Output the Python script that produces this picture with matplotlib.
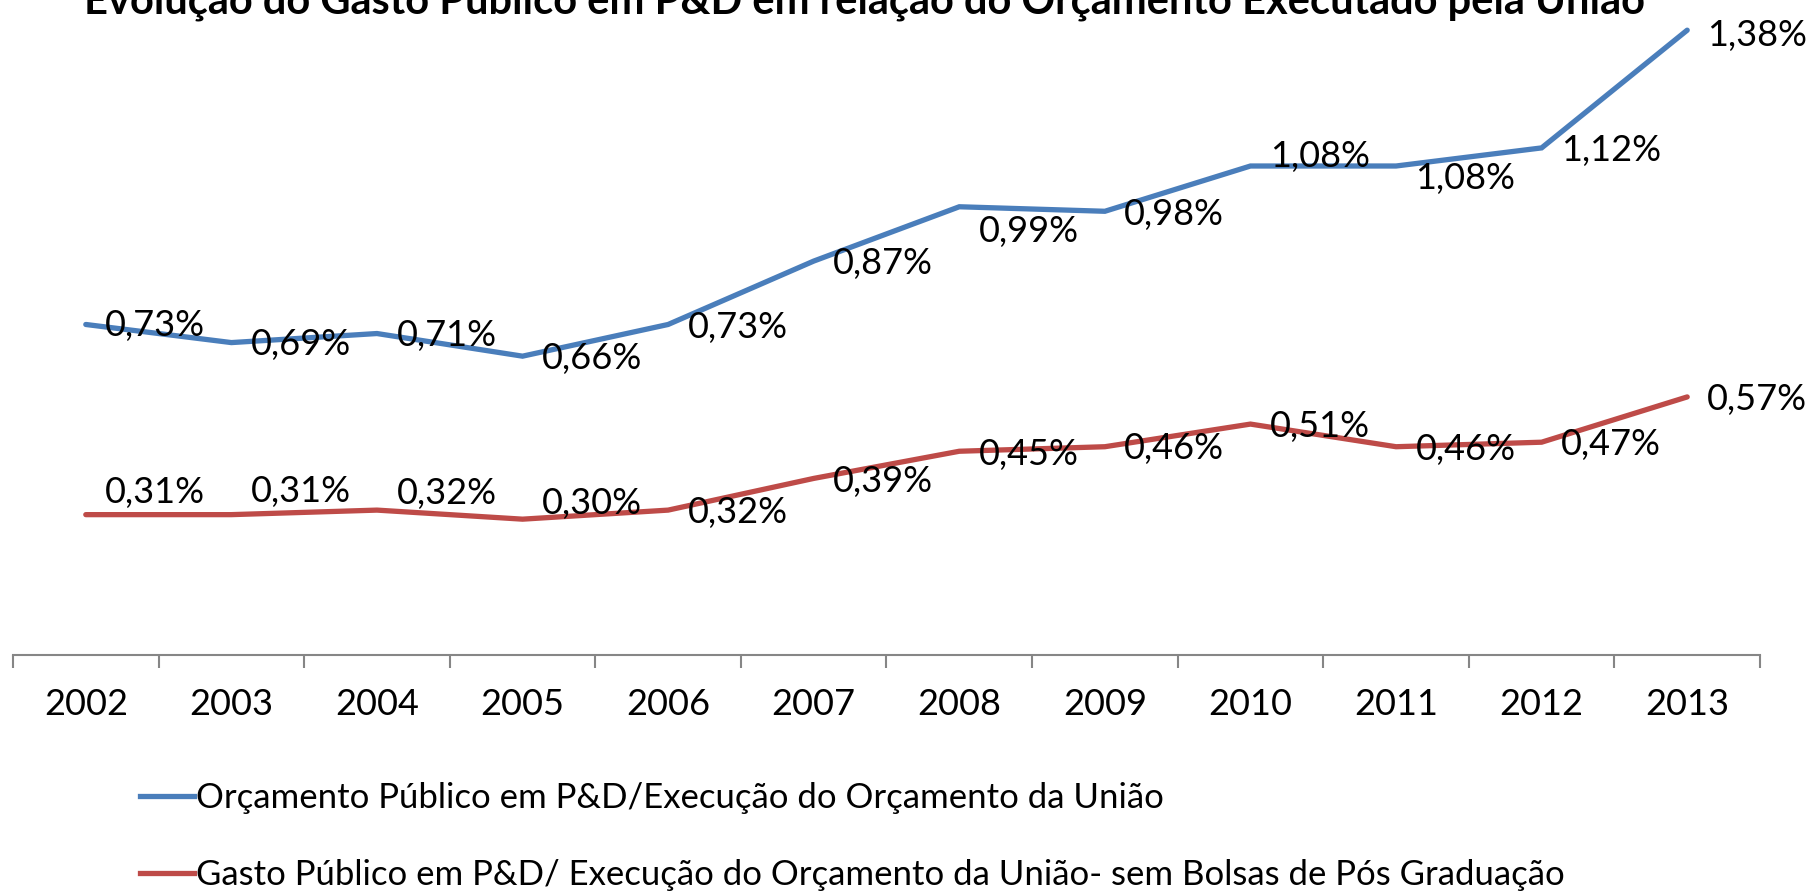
import matplotlib
matplotlib.use("Agg")
import matplotlib.pyplot as plt
from matplotlib.lines import Line2D

plt.rcParams['font.family'] = ['Lato', 'DejaVu Sans']

years = ['2002', '2003', '2004', '2005', '2006', '2007',
         '2008', '2009', '2010', '2011', '2012', '2013']
orcamento = [0.73, 0.69, 0.71, 0.66, 0.73, 0.87, 0.99, 0.98, 1.08, 1.08, 1.12, 1.38]
gasto_sem_bolsas = [0.31, 0.31, 0.32, 0.30, 0.32, 0.39, 0.45, 0.46, 0.51, 0.46, 0.47, 0.57]

title = 'Evolução do Gasto Público em P&D em relação do Orçamento Executado pela União'
legend_labels = ['Orçamento Público em P&D/Execução do Orçamento da União',
                 'Gasto Público em P&D/ Execução do Orçamento da União- sem Bolsas de Pós Graduação']

# label vertical offsets (points, positive = up) as positioned in the original
blue_dy = [-1, -1.5, -1.5, -1.5, -2, -2, -18, -2, 7, -9, -2, -3.5]
red_dy = [16, 16.5, 12, 11.5, -2, -2, -2, -1.5, -1.5, -2, -1.5, -1.5]

BLUE = '#4A7EBB'
RED = '#BE4B48'

fig = plt.figure(figsize=(18.16, 8.92), dpi=100)
ax = fig.add_axes([0.00716, 0.2657, 0.962, 0.736])
x = list(range(len(years)))
ax.plot(x, orcamento, color=BLUE, lw=3.8, solid_capstyle='round', solid_joinstyle='miter')
ax.plot(x, gasto_sem_bolsas, color=RED, lw=3.8, solid_capstyle='round', solid_joinstyle='miter')

ax.set_xlim(-0.5, len(years) - 0.5)
ax.set_ylim(0, 1.45)

for i, v in enumerate(orcamento):
    ax.annotate(f'{v:.2f}%'.replace('.', ','), (i, v), xytext=(14, blue_dy[i]),
                textcoords='offset points', ha='left', va='center', fontsize=26)
for i, v in enumerate(gasto_sem_bolsas):
    ax.annotate(f'{v:.2f}%'.replace('.', ','), (i, v), xytext=(14, red_dy[i]),
                textcoords='offset points', ha='left', va='center', fontsize=26)

for s in ['top', 'right', 'left']:
    ax.spines[s].set_visible(False)
ax.spines['bottom'].set_color('#868686')
ax.spines['bottom'].set_linewidth(1.5)
ax.set_yticks([])
ax.set_xticks([i - 0.5 for i in range(len(years) + 1)])
ax.set_xticklabels([])
ax.set_xticks(x, minor=True)
ax.set_xticklabels(years, minor=True, fontsize=26)
ax.tick_params(axis='x', which='major', direction='out', length=9, width=1.5, color='#868686')
ax.tick_params(axis='x', which='minor', length=0, pad=24)

fig.text(0.476, 0.998, title, ha='center', va='center', fontsize=30, fontweight='bold')

handles = [Line2D([0], [0], color=BLUE, lw=3.8), Line2D([0], [0], color=RED, lw=3.8)]
fig.legend(handles, legend_labels, loc='upper left', bbox_to_anchor=(0.077, 0.123),
           frameon=False, handlelength=1.55, handletextpad=0.08,
           labelspacing=1.3, borderaxespad=0, borderpad=0,
           prop={'size': 25})

fig.savefig('out.png', dpi=100)
